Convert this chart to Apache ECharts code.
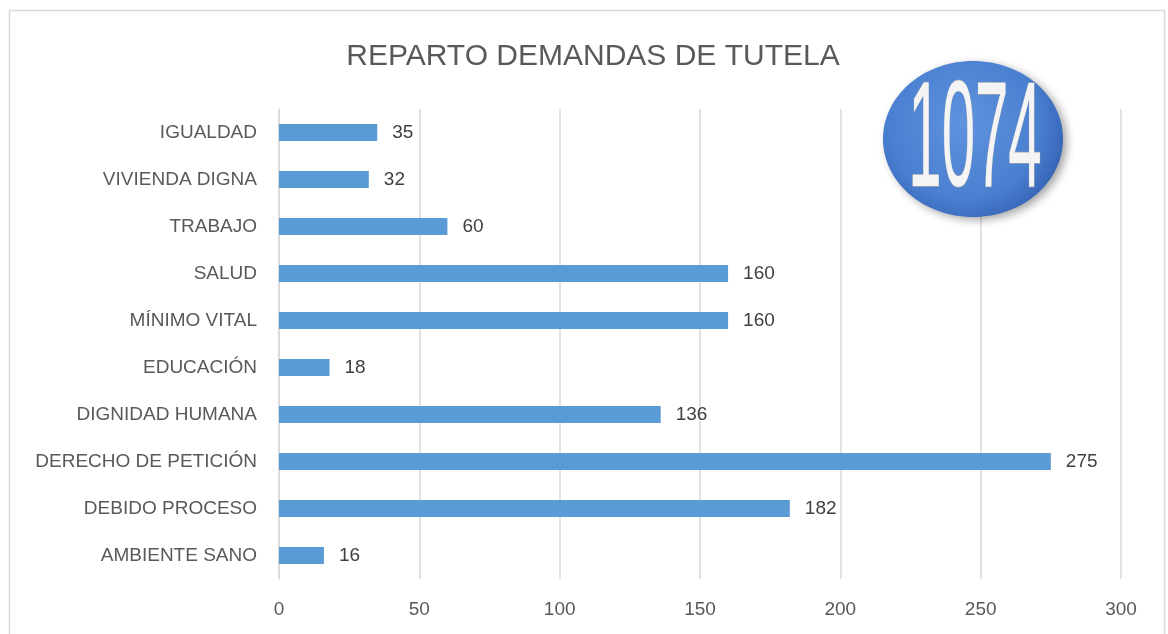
<!DOCTYPE html>
<html>
<head>
<meta charset="utf-8">
<script src="https://cdn.jsdelivr.net/npm/echarts@6/dist/echarts.min.js"></script>
<style>
  html, body { margin: 0; padding: 0; background: #fff; }
  #main { width: 1168px; height: 634px; }
</style>
</head>
<body>
<div id="main"></div>
<script>
// categories bottom -> top (as on the axis)
var categorias = ['AMBIENTE SANO', 'DEBIDO PROCESO', 'DERECHO DE PETICIÓN', 'DIGNIDAD HUMANA',
    'EDUCACIÓN', 'MÍNIMO VITAL', 'SALUD', 'TRABAJO', 'VIVIENDA DIGNA', 'IGUALDAD'];
var demandas = [16, 182, 275, 136, 18, 160, 160, 60, 32, 35];
var ticksX = [0, 50, 100, 150, 200, 250, 300];
var total = '1074';

var myChart = echarts.init(document.getElementById('main'));
var font = '"Liberation Sans", Arial, sans-serif';

var option = {
    backgroundColor: '#fff',
    animation: false,
    title: {
        text: 'REPARTO DEMANDAS DE TUTELA',
        left: 588,
        top: 37,
        textAlign: 'center',
        textStyle: { fontFamily: font, fontSize: 30, fontWeight: 'normal', color: '#595959' }
    },
    grid: { left: 279, right: 47, top: 109, bottom: 55, containLabel: false },
    xAxis: {
        type: 'value',
        min: ticksX[0],
        max: ticksX[ticksX.length - 1],
        interval: 50,
        axisLine: { show: false },
        axisTick: { show: false },
        axisLabel: { margin: 21, fontFamily: font, fontSize: 19, color: '#595959' },
        splitLine: { lineStyle: { color: '#d9d9d9', width: 1.5 } }
    },
    yAxis: {
        type: 'category',
        data: categorias,
        axisLine: { lineStyle: { color: '#d9d9d9', width: 1.5 } },
        axisTick: { show: false },
        axisLabel: { margin: 22, fontFamily: font, fontSize: 19, color: '#595959' }
    },
    series: [{
        type: 'bar',
        data: demandas,
        barWidth: 17,
        itemStyle: { color: '#5b9bd5' },
        label: {
            show: true,
            position: 'right',
            distance: 15,
            fontFamily: font,
            fontSize: 19,
            color: '#404040'
        }
    }],
    graphic: [
        {
            type: 'rect',
            shape: { x: 9.5, y: 10.5, width: 1155, height: 640 },
            style: { fill: 'none', stroke: '#d9d9d9', lineWidth: 1.5 },
            silent: true,
            z: -1
        },
        {
            type: 'ellipse',
            shape: { cx: 973, cy: 139, rx: 90, ry: 78 },
            style: {
                fill: new echarts.graphic.RadialGradient(0.45, 0.4, 0.75, [
                    { offset: 0, color: '#5f93de' },
                    { offset: 0.65, color: '#4a7fd0' },
                    { offset: 1, color: '#2d58a9' }
                ]),
                shadowBlur: 8,
                shadowOffsetX: 4,
                shadowOffsetY: 3,
                shadowColor: 'rgba(0,0,0,0.35)'
            },
            z: 10
        },
        {
            type: 'text',
            x: 975,
            y: 145,
            scaleX: 0.4,
            style: {
                text: total,
                fontFamily: font,
                fontSize: 150,
                fill: '#f4f4f4',
                stroke: '#9aa3b0',
                lineWidth: 1.5,
                textAlign: 'center',
                textVerticalAlign: 'middle',
                shadowBlur: 3,
                shadowOffsetX: 3,
                shadowOffsetY: 2,
                shadowColor: 'rgba(30,40,70,0.6)'
            },
            z: 11
        }
    ]
};

myChart.setOption(option);
</script>
</body>
</html>
